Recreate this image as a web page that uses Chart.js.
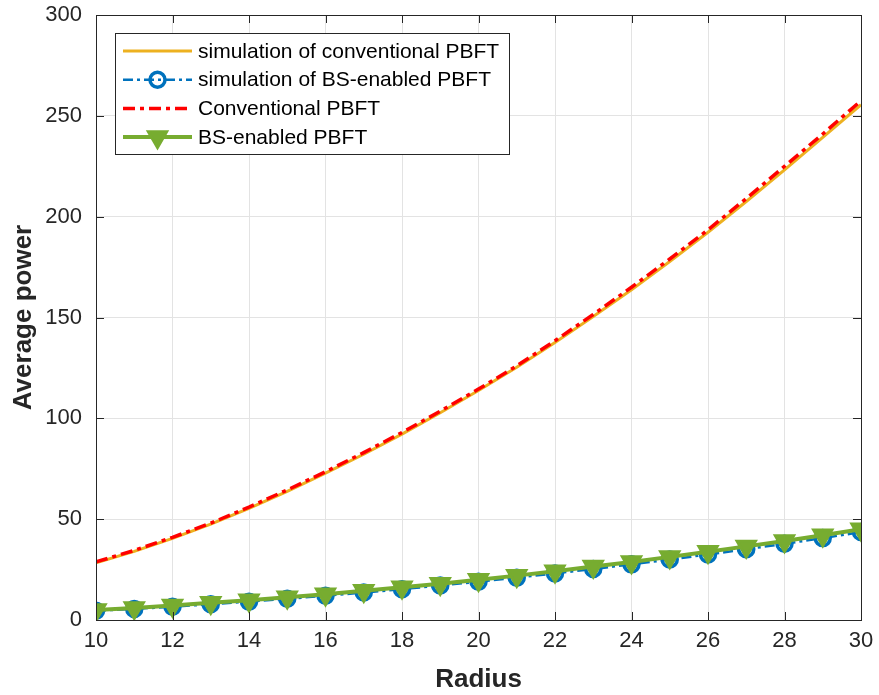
<!DOCTYPE html>
<html>
<head>
<meta charset="utf-8">
<script src="https://cdn.jsdelivr.net/npm/chart.js@4.4.0/dist/chart.umd.min.js"></script>
<style>
  body { margin: 0; background: #fff; }
  #powerChart { display: block; }
</style>
</head>
<body>
<canvas id="powerChart" width="879" height="695"></canvas>
<script>
const radius = [10, 11, 12, 13, 14, 15, 16, 17, 18, 19, 20, 21, 22, 23, 24, 25, 26, 27, 28, 29, 30];

const simConventional = [28.4, 34.0, 40.5, 47.5, 55.3, 63.8, 72.8, 82.2, 92.2, 102.8, 113.8, 125.3, 137.6, 150.5, 163.8, 177.8, 192.3, 207.5, 223.2, 239.3, 255.5];
const simBsEnabled = [4.6, 5.5, 6.6, 7.8, 9.1, 10.5, 12.0, 13.6, 15.3, 17.1, 19.0, 21.0, 23.1, 25.3, 27.6, 30.0, 32.5, 35.1, 37.8, 40.6, 43.6];
const conventional = [28.8, 34.5, 41.0, 48.0, 56.0, 64.5, 73.5, 83.0, 93.0, 103.5, 114.5, 126.0, 138.5, 151.5, 165.0, 179.0, 193.5, 209.0, 225.0, 241.0, 257.5];
const bsEnabled = [5.0, 6.0, 7.2, 8.5, 9.8, 11.3, 12.8, 14.5, 16.2, 18.0, 20.0, 22.0, 24.2, 26.5, 28.8, 31.3, 33.8, 36.5, 39.2, 42.0, 45.0];

const xTicks = [10, 12, 14, 16, 18, 20, 22, 24, 26, 28, 30];
const yTicks = [0, 50, 100, 150, 200, 250, 300];

const legendLabels = [
  'simulation of conventional PBFT',
  'simulation of BS-enabled PBFT',
  'Conventional PBFT',
  'BS-enabled PBFT'
];

const pts = arr => arr.map((v, i) => ({ x: radius[i], y: v }));
const FONT = '"Liberation Sans", Arial, Helvetica, sans-serif';
const TEXT = '#262626';

// box around the axes plus inward ticks, like matlab "box on"
const boxPlugin = {
  id: 'boxAxes',
  afterDraw(chart) {
    const { ctx, chartArea: a, scales } = chart;
    ctx.save();
    ctx.strokeStyle = TEXT;
    ctx.lineWidth = 1;
    ctx.strokeRect(a.left + 0.5, a.top + 0.5, a.right - a.left, a.bottom - a.top);
    ctx.beginPath();
    xTicks.forEach(t => {
      const x = Math.round(scales.x.getPixelForValue(t)) + 0.5;
      ctx.moveTo(x, a.bottom); ctx.lineTo(x, a.bottom - 8);
      ctx.moveTo(x, a.top); ctx.lineTo(x, a.top + 8);
    });
    yTicks.forEach(t => {
      const y = Math.round(scales.y.getPixelForValue(t)) + 0.5;
      ctx.moveTo(a.left, y); ctx.lineTo(a.left + 8, y);
      ctx.moveTo(a.right, y); ctx.lineTo(a.right - 8, y);
    });
    ctx.stroke();
    ctx.restore();
  }
};

// legend drawn inside the plot, top-left
const legendPlugin = {
  id: 'innerLegend',
  afterDraw(chart) {
    const { ctx, chartArea: a } = chart;
    const bx = a.left + 19, by = a.top + 18, bw = 394, bh = 121;
    ctx.save();
    ctx.fillStyle = '#fff';
    ctx.fillRect(bx, by, bw, bh);
    ctx.strokeStyle = TEXT;
    ctx.lineWidth = 1;
    ctx.strokeRect(bx + 0.5, by + 0.5, bw, bh);

    legendLabels.forEach((label, i) => {
      const ds = chart.data.datasets[i];
      const y = by + 18 + i * 28.7;
      const x0 = bx + 8, x1 = bx + 77;
      ctx.strokeStyle = ds.borderColor;
      ctx.lineWidth = ds.borderWidth;
      ctx.setLineDash(ds.borderDash || []);
      ctx.beginPath();
      ctx.moveTo(x0, y); ctx.lineTo(x1, y);
      ctx.stroke();
      ctx.setLineDash([]);
      if (ds.pointRadius > 0) {
        ctx.fillStyle = ds.pointBackgroundColor;
        ctx.strokeStyle = ds.pointBorderColor;
        ctx.lineWidth = ds.pointBorderWidth;
        Chart.helpers.drawPoint(ctx, {
          pointStyle: ds.pointStyle,
          rotation: ds.pointRotation || 0,
          radius: ds.pointRadius,
          borderWidth: ds.pointBorderWidth
        }, (x0 + x1) / 2, y);
      }
      ctx.fillStyle = '#000';
      ctx.font = '21px ' + FONT;
      ctx.textBaseline = 'middle';
      ctx.fillText(label, x1 + 6, y + 1);
    });
    ctx.restore();
  }
};

const ctx = document.getElementById('powerChart').getContext('2d');

const powerChart = new Chart(ctx, {
  type: 'line',
  data: {
    datasets: [
      {
        label: legendLabels[0],
        data: pts(simConventional),
        borderColor: '#EDB120',
        borderWidth: 3,
        pointRadius: 0,
        order: 4
      },
      {
        label: legendLabels[1],
        data: pts(simBsEnabled),
        borderColor: '#0072BD',
        borderWidth: 2.5,
        borderDash: [10, 4, 3, 4],
        pointStyle: 'circle',
        pointRadius: 7.5,
        pointBorderWidth: 3.5,
        pointBorderColor: '#0072BD',
        pointBackgroundColor: 'rgba(255,255,255,0)',
        order: 3
      },
      {
        label: legendLabels[2],
        data: pts(conventional),
        borderColor: '#FF0000',
        borderWidth: 3.5,
        borderDash: [12, 5, 4, 5],
        pointRadius: 0,
        order: 2
      },
      {
        label: legendLabels[3],
        data: pts(bsEnabled),
        borderColor: '#77AC30',
        borderWidth: 4,
        pointStyle: 'triangle',
        pointRotation: 180,
        pointRadius: 10.5,
        pointBorderWidth: 3,
        pointBorderColor: '#77AC30',
        pointBackgroundColor: '#77AC30',
        order: 1
      }
    ]
  },
  options: {
    responsive: false,
    animation: false,
    layout: { padding: { top: 15, right: 18, left: 0, bottom: 0 } },
    plugins: {
      legend: { display: false },
      tooltip: { enabled: false }
    },
    elements: { line: { tension: 0 } },
    scales: {
      x: {
        type: 'linear',
        min: 10,
        max: 30,
        afterBuildTicks: s => { s.ticks = xTicks.map(v => ({ value: v })); },
        afterFit: s => { s.height = 75; s.paddingLeft = 0; s.paddingRight = 0; },
        grid: { color: '#e3e3e3', drawTicks: false },
        border: { display: false },
        ticks: { color: TEXT, font: { family: FONT, size: 22 }, padding: 8 },
        title: {
          display: true,
          text: 'Radius',
          color: TEXT,
          font: { family: FONT, size: 26, weight: 'bold' },
          padding: { top: 0, bottom: 0 }
        }
      },
      y: {
        min: 0,
        max: 300,
        afterBuildTicks: s => { s.ticks = yTicks.map(v => ({ value: v })); },
        afterFit: s => { s.width = 96; s.paddingTop = 0; s.paddingBottom = 0; },
        grid: { color: '#e3e3e3', drawTicks: false },
        border: { display: false },
        ticks: { color: TEXT, font: { family: FONT, size: 22 }, padding: 14 },
        title: {
          display: true,
          text: 'Average power',
          color: TEXT,
          font: { family: FONT, size: 26, weight: 'bold' },
          padding: { top: 8, bottom: 0 }
        }
      }
    }
  },
  plugins: [boxPlugin, legendPlugin]
});
</script>
</body>
</html>
